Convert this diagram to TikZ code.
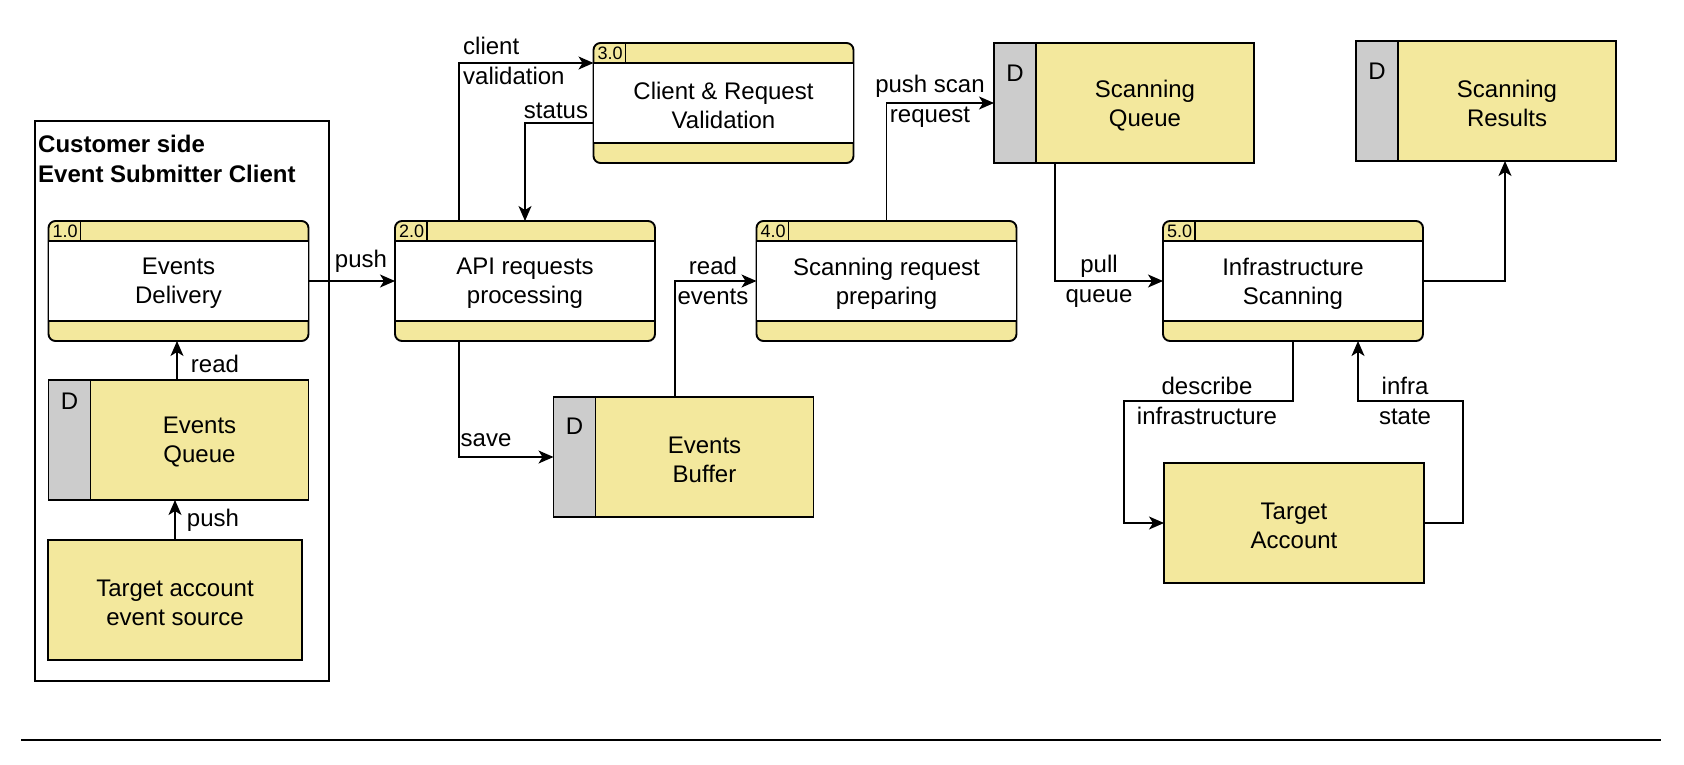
\documentclass[tikz,border=0pt]{standalone}
\usepackage{fontspec}
\setmainfont{Liberation Sans}
\usetikzlibrary{arrows.meta}
\definecolor{dfdyellow}{RGB}{243,232,157}
\definecolor{dfdgray}{RGB}{204,204,204}
\tikzset{
  box/.style={draw=black, line width=1.9pt},
  procbox/.style={box, fill=dfdyellow, rounded corners=7pt, minimum width=260pt, minimum height=120pt, inner sep=0pt, outer sep=0pt},
  storebox/.style={box, fill=dfdyellow, minimum width=260pt, minimum height=120pt, inner sep=0pt, outer sep=0pt},
  plainbox/.style={box, fill=dfdyellow, minimum height=120pt, inner sep=0pt, outer sep=0pt},
  flow/.style={line width=1.4pt, -{Stealth[length=15pt,width=13pt,inset=4pt]}},
  txt/.style={font=\fontsize{24}{29}\selectfont, align=center, inner sep=0pt},
  lbl/.style={font=\fontsize{24}{30}\selectfont, align=center, inner sep=0pt},
  idtxt/.style={font=\fontsize{18}{20}\selectfont, anchor=west, inner sep=0pt},
}
\newcommand{\dfdprocess}[5]{%
  \node[procbox] (#1) at (#2,#3) {};
  \draw[box, fill=white] ([yshift=-20pt]#1.north west) rectangle ([yshift=20pt]#1.south east);
  \draw[box] ([xshift=32pt]#1.north west) -- ([xshift=32pt,yshift=-20pt]#1.north west);
  \node[idtxt] (#1-id) at ([xshift=4pt,yshift=-10pt]#1.north west) {#4};
  \node[txt] (#1-txt) at ([yshift=-2.5pt]#1.center) {#5};
}
\newcommand{\dfdstore}[5]{%
  \node[storebox] (#1) at (#2,#3) {};
  \draw[box, fill=dfdgray] (#1.north west) rectangle ([xshift=42pt]#1.south west);
  \node[txt] (#1-d) at ([xshift=21pt,yshift=-#5]#1.north west) {D};
  \node[txt] (#1-txt) at ([xshift=21pt,yshift=-2.5pt]#1.center) {#4};
}
\begin{document}
\begin{tikzpicture}[x=1pt,y=-1pt]
\useasboundingbox (0,0) rectangle (1684,764);

% container
\node[box, minimum width=294pt, minimum height=560pt, inner sep=0pt] (client) at (182,401) {};
\node[font=\fontsize{24}{30}\selectfont\bfseries, align=left, anchor=west, inner sep=0pt] (client-title) at (38,159) {Customer side\\Event Submitter Client};

% processes
\dfdprocess{p1}{178.5}{281}{1.0}{Events\\Delivery}
\dfdprocess{p2}{525}{281}{2.0}{API requests\\processing}
\dfdprocess{p3}{723.5}{103}{3.0}{Client \& Request\\Validation}
\dfdprocess{p4}{886.5}{281}{4.0}{Scanning request\\preparing}
\dfdprocess{p5}{1293}{281}{5.0}{Infrastructure\\Scanning}

% data stores
\dfdstore{eq}{178.5}{440}{Events\\Queue}{21pt}
\dfdstore{eb}{683.5}{457}{Events\\Buffer}{29pt}
\dfdstore{sq}{1124}{103}{Scanning\\Queue}{30pt}
\dfdstore{sr}{1486}{101}{Scanning\\Results}{30pt}

% external entities
\node[plainbox, minimum width=254pt] (src) at (175,600) {};
\node[txt] (src-txt) at ([yshift=-2.5pt]src.center) {Target account\\event source};
\node[plainbox, minimum width=260pt] (ta) at (1294,523) {};
\node[txt] (ta-txt) at ([yshift=-2.5pt]ta.center) {Target\\Account};

% connectors
\draw[flow] (p1.east) -- (p2.west);
\draw[flow] ([xshift=-1.5pt]eq.north) -- ([xshift=-1.5pt]p1.south);
\draw[flow] (src.north) -- (src.north |- eq.south);
\draw[flow] ([xshift=-66pt]p2.north) |- ([yshift=-20pt]p3.north west);
\draw[flow] ([yshift=-20pt]p3.west) -| (p2.north);
\draw[flow] ([xshift=-66pt]p2.south) |- (eb.west);
\draw[flow] ([xshift=-8.5pt]eb.north) |- (p4.west);
\draw[flow] (p4.north) |- (sq.west);
\draw[flow] ([xshift=-69pt]sq.south) |- (p5.west);
\draw[flow] (p5.east) -| ([xshift=19pt]sr.south);
\coordinate (d1) at (1124,401);
\draw[flow] (p5.south) |- (d1) |- (ta.west);
\coordinate (i1) at (1463,401);
\draw[flow] (ta.east) -| (i1) -| ([xshift=65pt]p5.south);

% labels
\node[lbl] (l-push1) at (361,261) {push};
\node[lbl] (l-read1) at (215,364) {read};
\node[lbl] (l-push2) at (213,520) {push};
\node[lbl, align=left, anchor=west] (l-client) at (463,61) {client\\validation};
\node[lbl] (l-status) at (556,111) {status};
\node[lbl] (l-save) at (486,440) {save};
\node[lbl] (l-read2) at (713,281) {read\\events};
\node[lbl] (l-pushscan) at (930,101) {push scan\\request};
\node[lbl] (l-pull) at (1099,281) {pull\\queue};
\node[lbl] (l-describe) at (1207,401) {describe\\infrastructure};
\node[lbl] (l-infra) at (1405,401) {infra\\state};

% bottom rule
\coordinate (rule-l) at (21,740);
\coordinate (rule-r) at (1661,740);
\draw[line width=2pt] (rule-l) -- (rule-r);
\end{tikzpicture}
\end{document}
